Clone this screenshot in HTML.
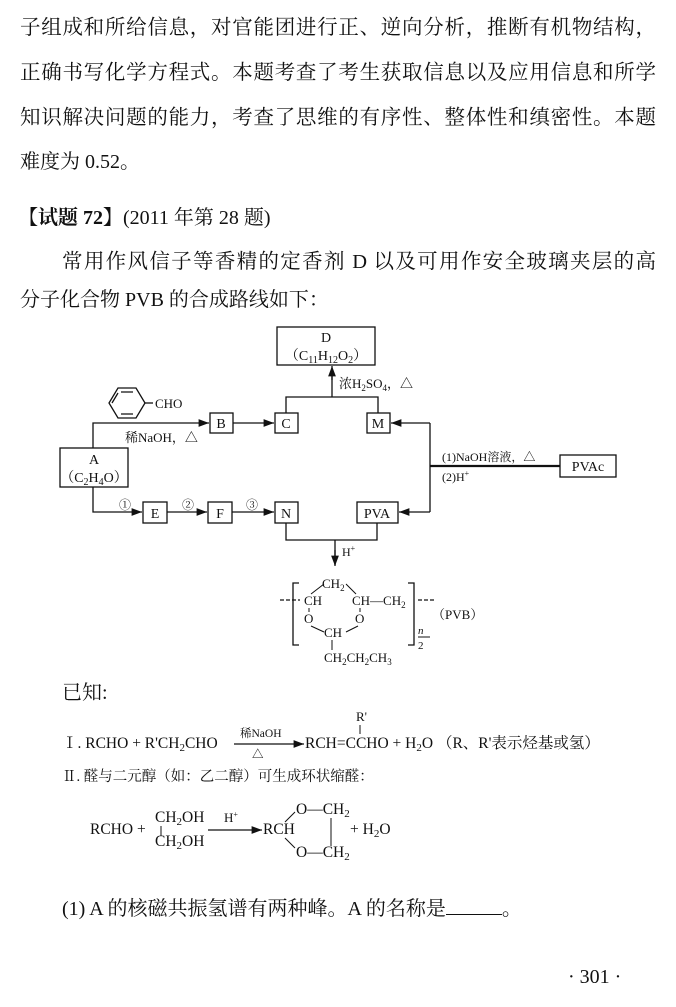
<!DOCTYPE html>
<html><head><meta charset="utf-8"><style>
body{margin:0;width:676px;height:1007px;background:#fff;position:relative;overflow:hidden;font-family:"Liberation Serif","Noto Serif CJK SC",serif;color:#111}
.l{position:absolute;left:20px;width:636px;font-size:20.5px;line-height:24px;white-space:nowrap;text-align:justify;text-align-last:justify}
.t{position:absolute;font-size:20px;line-height:24px;white-space:nowrap}
svg{position:absolute;left:0;top:0}
svg text{font-family:"Liberation Serif","Noto Serif CJK SC",serif;fill:#111}
</style></head><body>
<div class="l" style="top:16px">子组成和所给信息，对官能团进行正、逆向分析，推断有机物结构，</div>
<div class="l" style="top:61px">正确书写化学方程式。本题考查了考生获取信息以及应用信息和所学</div>
<div class="l" style="top:106px">知识解决问题的能力，考查了思维的有序性、整体性和缜密性。本题</div>
<div class="t" style="top:150px;left:20px">难度为 0.52。</div>
<div class="t" style="top:206px;left:18px"><b>【试题 72】</b>(2011 年第 28 题)</div>
<div class="l" style="top:250px;left:62px;width:594px">常用作风信子等香精的定香剂 D 以及可用作安全玻璃夹层的高</div>
<div class="t" style="top:288px;left:20px">分子化合物 PVB 的合成路线如下：</div>
<div class="t" style="top:681px;left:62px">已知:</div>
<div class="t" style="top:896px;left:62px">(1) A 的核磁共振氢谱有两种峰。A 的名称是<span style="display:inline-block;width:56px;border-bottom:1px solid #111;height:18px"></span>。</div>
<div class="t" style="top:965px;left:568px">· 301 ·</div>
<svg width="676" height="1007" stroke="#111" fill="none" stroke-width="1.3">
<defs><marker id="a" markerWidth="8" markerHeight="6" refX="8" refY="3" orient="auto"><path d="M0,0L8,3L0,6z" fill="#111" stroke="none"/></marker></defs>
<rect x="277" y="327" width="98" height="38"/>
<rect x="210" y="413" width="23" height="20"/>
<rect x="275" y="413" width="23" height="20"/>
<rect x="367" y="413" width="23" height="20"/>
<rect x="60" y="448" width="68" height="39"/>
<rect x="143" y="502" width="24" height="21"/>
<rect x="208" y="502" width="24" height="21"/>
<rect x="275" y="502" width="23" height="21"/>
<rect x="357" y="502" width="41" height="21"/>
<rect x="560" y="455" width="56" height="22"/>
<path d="M93 448V423H209" marker-end="url(#a)"/>
<path d="M233 423H274" marker-end="url(#a)"/>
<path d="M286 413V397H378V413M332 397V372" />
<path d="M332 380V366" marker-end="url(#a)"/>
<path d="M93 487V512H142" marker-end="url(#a)"/>
<path d="M167 512H207" marker-end="url(#a)"/>
<path d="M232 512H274" marker-end="url(#a)"/>
<path d="M430 423H391" marker-end="url(#a)"/>
<path d="M430 512H399" marker-end="url(#a)"/>
<path d="M430 423V512"/>
<path d="M430 466H560" stroke-width="2.2"/>
<path d="M286 523V540H377V523M335 540V565" />
<path d="M335 550V566" marker-end="url(#a)"/>
<polygon points="118,388 136,388 145,403 136,418 118,418 109,403"/>
<path d="M121 392H133M121 414H133M112 403L118 393"/>
<path d="M145 403H153"/>
<g stroke="none" font-size="14">
<text x="326" y="342" text-anchor="middle">D</text>
<text x="326" y="360" text-anchor="middle">（C<tspan font-size="10" dy="3">11</tspan><tspan dy="-3">H</tspan><tspan font-size="10" dy="3">12</tspan><tspan dy="-3">O</tspan><tspan font-size="10" dy="3">2</tspan><tspan dy="-3">）</tspan></text>
<text x="339" y="388" font-size="13">浓H<tspan font-size="9" dy="3">2</tspan><tspan dy="-3">SO</tspan><tspan font-size="9" dy="3">4</tspan><tspan dy="-3">，△</tspan></text>
<text x="155" y="408" font-size="13">CHO</text>
<text x="125" y="442" font-size="13">稀NaOH，△</text>
<text x="221" y="428" text-anchor="middle">B</text>
<text x="286" y="428" text-anchor="middle">C</text>
<text x="378" y="428" text-anchor="middle">M</text>
<text x="94" y="464" text-anchor="middle">A</text>
<text x="94" y="482" text-anchor="middle">（C<tspan font-size="10" dy="3">2</tspan><tspan dy="-3">H</tspan><tspan font-size="10" dy="3">4</tspan><tspan dy="-3">O）</tspan></text>
<text x="155" y="518" text-anchor="middle">E</text>
<text x="220" y="518" text-anchor="middle">F</text>
<text x="286" y="518" text-anchor="middle">N</text>
<text x="377" y="518" text-anchor="middle">PVA</text>
<text x="588" y="471" text-anchor="middle">PVAc</text>
<text x="119" y="509" font-size="12">①</text>
<text x="182" y="509" font-size="12">②</text>
<text x="246" y="509" font-size="12">③</text>
<text x="442" y="461" font-size="12">(1)NaOH溶液，△</text>
<text x="442" y="481" font-size="12">(2)H<tspan font-size="8" dy="-5">+</tspan></text>
<text x="342" y="556" font-size="12">H<tspan font-size="8" dy="-5">+</tspan></text>
<text x="322" y="588" font-size="13">CH<tspan font-size="9" dy="3">2</tspan></text>
<text x="304" y="605" font-size="13">CH</text>
<text x="352" y="605" font-size="13">CH—CH<tspan font-size="9" dy="3">2</tspan></text>
<text x="304" y="623" font-size="13">O</text>
<text x="355" y="623" font-size="13">O</text>
<text x="324" y="637" font-size="13">CH</text>
<text x="324" y="662" font-size="13">CH<tspan font-size="9" dy="3">2</tspan><tspan dy="-3">CH</tspan><tspan font-size="9" dy="3">2</tspan><tspan dy="-3">CH</tspan><tspan font-size="9" dy="3">3</tspan></text>
<text x="432" y="619" font-size="13">（PVB）</text>
<text x="418" y="634" font-size="11" font-style="italic">n</text>
<text x="418" y="649" font-size="11">2</text>
</g>
<path d="M280 600H300M418 600H435" stroke-dasharray="4 2"/>
<path d="M299 583H293V645H299M408 583H414V645H408"/>
<path d="M311 594L324 584M346 584L356 594M309 608V612M360 608V612M311 626L324 632M346 632L358 626M332 640V650M418 637H430" stroke-width="1"/>
<g stroke="none" font-size="15.5">
<text x="62" y="748">Ⅰ. RCHO + R'CH<tspan font-size="11" dy="3">2</tspan><tspan dy="-3">CHO</tspan></text>
<text x="240" y="737" font-size="11.5">稀NaOH</text>
<text x="252" y="758" font-size="11.5">△</text>
<text x="305" y="748">RCH=CCHO + H<tspan font-size="11" dy="3">2</tspan><tspan dy="-3">O （R、R'表示烃基或氢）</tspan></text>
<text x="356" y="721" font-size="13">R'</text>
<text x="62" y="781" font-size="14.5">Ⅱ. 醛与二元醇（如：乙二醇）可生成环状缩醛：</text>
<text x="90" y="834">RCHO +</text>
<text x="155" y="822">CH<tspan font-size="11" dy="3">2</tspan><tspan dy="-3">OH</tspan></text>
<text x="155" y="846">CH<tspan font-size="11" dy="3">2</tspan><tspan dy="-3">OH</tspan></text>
<text x="224" y="822" font-size="13">H<tspan font-size="8" dy="-5">+</tspan></text>
<text x="263" y="834">RCH</text>
<text x="296" y="814">O—CH<tspan font-size="11" dy="3">2</tspan></text>
<text x="296" y="857">O—CH<tspan font-size="11" dy="3">2</tspan></text>
<text x="350" y="834">+ H<tspan font-size="11" dy="3">2</tspan><tspan dy="-3">O</tspan></text>
</g>
<path d="M234 744H304" marker-end="url(#a)"/>
<path d="M360 725V734M161 826V836M331 818V846M285 822L295 812M285 838L295 848" stroke-width="1"/>
<path d="M208 830H262" marker-end="url(#a)"/>
</svg>
</body></html>
